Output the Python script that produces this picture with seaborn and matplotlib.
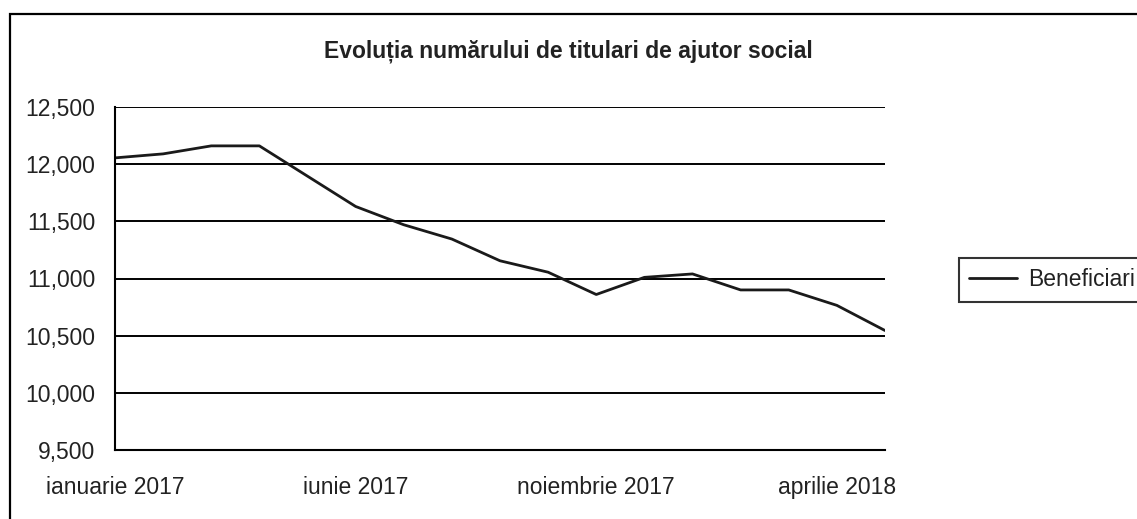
import matplotlib
matplotlib.use("Agg")
import matplotlib.pyplot as plt
import matplotlib.ticker as mticker
from matplotlib.patches import Rectangle
import pandas as pd
import seaborn as sns

# data
months = ["ianuarie 2017", "februarie 2017", "martie 2017", "aprilie 2017", "mai 2017",
          "iunie 2017", "iulie 2017", "august 2017", "septembrie 2017", "octombrie 2017",
          "noiembrie 2017", "decembrie 2017", "ianuarie 2018", "februarie 2018",
          "martie 2018", "aprilie 2018", "mai 2018"]
beneficiari = [12055, 12090, 12160, 12160, 11895, 11630, 11470, 11345, 11155, 11055,
               10860, 11010, 11040, 10900, 10900, 10765, 10545]
shown_labels = ["ianuarie 2017", "iunie 2017", "noiembrie 2017", "aprilie 2018"]

df = pd.DataFrame({"idx": range(len(months)), "luna": months, "Beneficiari": beneficiari})

sns.set_theme(style="white")
plt.rcParams["font.family"] = ["Liberation Sans", "DejaVu Sans"]

fig = plt.figure(figsize=(11.37, 5.19), dpi=100)
ax = fig.add_axes([115 / 1137, 1 - 450 / 519, 770 / 1137, 343 / 519])

sns.lineplot(data=df, x="idx", y="Beneficiari", ax=ax, color="#1a1a1a",
             linewidth=2.0, label="Beneficiari", legend=False)

ax.set_xlim(0, len(months) - 1)
ax.set_ylim(9500, 12500)
ax.yaxis.set_major_locator(mticker.MultipleLocator(500))
ax.yaxis.set_major_formatter(mticker.FuncFormatter(lambda v, p: f"{int(v):,}"))
ax.set_xticks(range(len(months)))
ax.set_xticklabels([m if m in shown_labels else "" for m in months])
ax.set_xlabel("")
ax.set_ylabel("")

ax.grid(axis="y", color="black", linewidth=1.4)
ax.grid(axis="x", visible=False)
ax.set_axisbelow(True)
for s in ["top", "right"]:
    ax.spines[s].set_visible(False)
for s in ["left", "bottom"]:
    ax.spines[s].set_color("black")
    ax.spines[s].set_linewidth(1.5)

ax.tick_params(axis="x", direction="in", length=8, width=1.3, color="black",
               labelsize=16.5, pad=19, labelcolor="#222222")
ax.tick_params(axis="y", length=0, labelsize=16.5, pad=14, labelcolor="#222222")

fig.text(568 / 1137, 1 - 51 / 519, "Evoluția numărului de titulari de ajutor social",
         ha="center", va="center", fontsize=16.5, fontweight="bold", color="#222222")

leg = fig.legend(handles=ax.get_lines(), labels=["Beneficiari"], loc="center left",
                 bbox_to_anchor=(959 / 1137, 1 - 280 / 519), fontsize=16.5,
                 frameon=True, fancybox=False, edgecolor="black", handlelength=2.1,
                 handletextpad=0.45, borderpad=0.45, borderaxespad=0)
leg.get_frame().set_linewidth(1.5)
for t in leg.get_texts():
    t.set_color("#222222")

fig.patches.append(Rectangle((10 / 1137, -0.1), 1.2, 1.1 - 14 / 519,
                             transform=fig.transFigure, fill=False,
                             edgecolor="black", linewidth=1.6))

fig.savefig("out.png", dpi=100)
